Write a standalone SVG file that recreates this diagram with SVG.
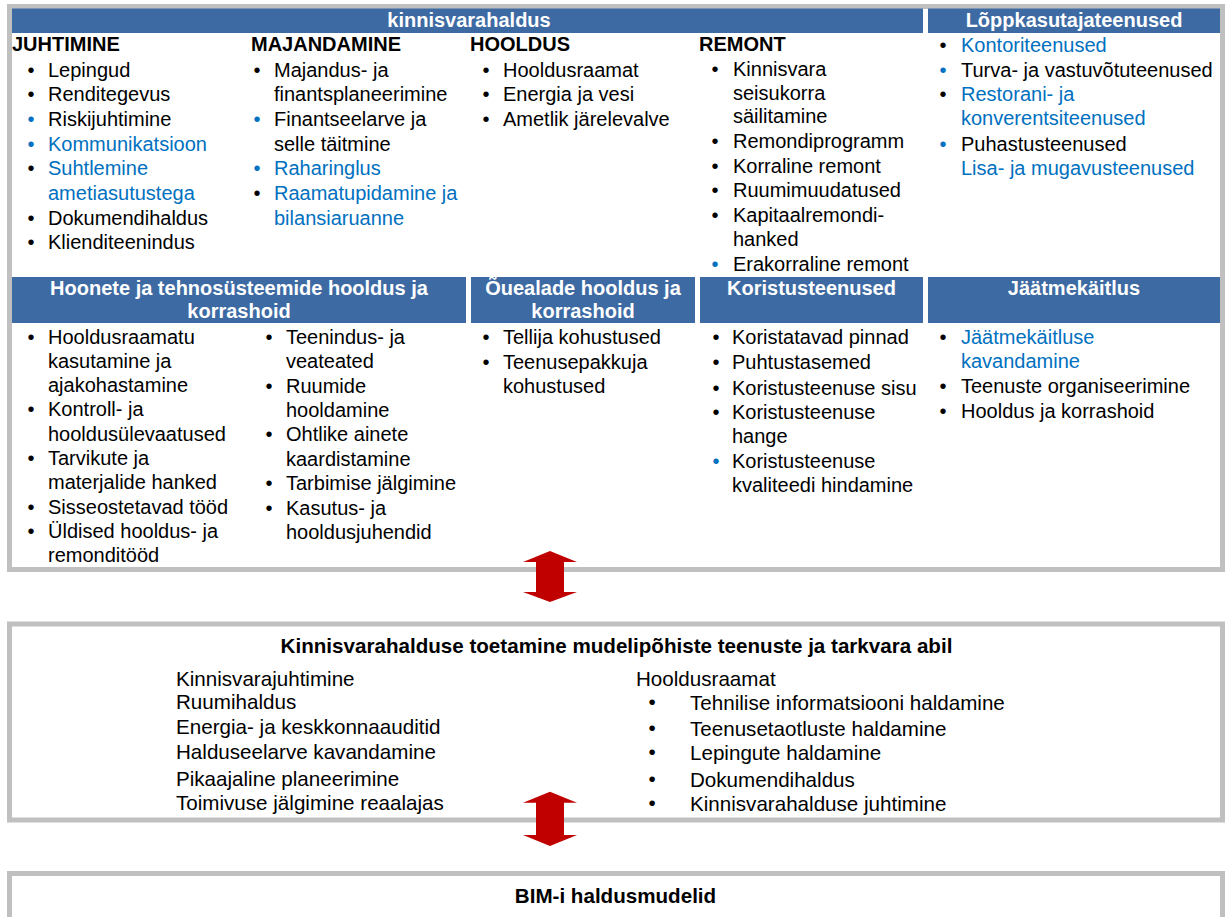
<svg xmlns="http://www.w3.org/2000/svg" width="1229" height="917" viewBox="0 0 1229 917">
<style>
text{font-family:"Liberation Sans",Arial,sans-serif;font-size:20px;fill:#000}
.h{font-weight:bold}
.w{font-weight:bold;fill:#fff;text-anchor:middle}
.c{text-anchor:middle}
.b{fill:#0070C0}
.lg text{font-size:20.6px}
.sb{font-size:17px}
.frame{fill:#fff;stroke:#C0C0C0;stroke-width:5}
.hdr{fill:#3D6AA3}
.arrow{fill:#C00000}
</style>
<rect width="1229" height="917" fill="#fff"/>
<g id="frame-top"><rect class="frame" x="9.5" y="6.5" width="1213" height="563"/></g>
<g id="frame-support"><rect class="frame" x="9.5" y="624" width="1213" height="196"/></g>
<g id="frame-bim"><rect class="frame" x="9.5" y="873.5" width="1213" height="60"/></g>

<g id="kinnisvarahaldus">
<rect class="hdr" x="12" y="8.5" width="911" height="24.5"/>
<text class="w" x="469" y="27">kinnisvarahaldus</text>
</g>

<g id="juhtimine">
<text class="h" x="12" y="51">JUHTIMINE</text>
<text class="c" x="31" y="76.7">•</text><text x="48" y="76.7">Lepingud</text>
<text class="c" x="31" y="101.3">•</text><text x="48" y="101.3">Renditegevus</text>
<text class="c b" x="31" y="126">•</text><text x="48" y="126">Riskijuhtimine</text>
<text class="c b" x="31" y="150.6">•</text><text class="b" x="48" y="150.6">Kommunikatsioon</text>
<text class="c" x="31" y="175.3">•</text><text class="b" x="48" y="175.3">Suhtlemine</text>
<text class="b" x="48" y="200">ametiasutustega</text>
<text class="c" x="31" y="224.6">•</text><text x="48" y="224.6">Dokumendihaldus</text>
<text class="c" x="31" y="249.3">•</text><text x="48" y="249.3">Klienditeenindus</text>
</g>

<g id="majandamine">
<text class="h" x="251" y="51">MAJANDAMINE</text>
<text class="c" x="257" y="76.7">•</text><text x="274" y="76.7">Majandus- ja</text>
<text x="274" y="101.3">finantsplaneerimine</text>
<text class="c b" x="257" y="126">•</text><text x="274" y="126">Finantseelarve ja</text>
<text x="274" y="150.6">selle täitmine</text>
<text class="c b" x="257" y="175.3">•</text><text class="b" x="274" y="175.3">Raharinglus</text>
<text class="c" x="257" y="200">•</text><text class="b" x="274" y="200">Raamatupidamine ja</text>
<text class="b" x="274" y="224.6">bilansiaruanne</text>
</g>

<g id="hooldus">
<text class="h" x="470" y="51">HOOLDUS</text>
<text class="c" x="486" y="76.7">•</text><text x="503" y="76.7">Hooldusraamat</text>
<text class="c" x="486" y="101.3">•</text><text x="503" y="101.3">Energia ja vesi</text>
<text class="c" x="486" y="126">•</text><text x="503" y="126">Ametlik järelevalve</text>
</g>

<g id="remont">
<text class="h" x="699" y="51">REMONT</text>
<text class="c" x="715" y="76">•</text><text x="733" y="76">Kinnisvara</text>
<text x="733" y="99.5">seisukorra</text>
<text x="733" y="123">säilitamine</text>
<text class="c" x="715" y="148">•</text><text x="733" y="148">Remondiprogramm</text>
<text class="c" x="715" y="172.5">•</text><text x="733" y="172.5">Korraline remont</text>
<text class="c" x="715" y="197">•</text><text x="733" y="197">Ruumimuudatused</text>
<text class="c" x="715" y="222">•</text><text x="733" y="222">Kapitaalremondi-</text>
<text x="733" y="246">hanked</text>
<text class="c b" x="715" y="271">•</text><text x="733" y="271">Erakorraline remont</text>
</g>

<g id="lopkasutajateenused">
<rect class="hdr" x="928" y="8.5" width="292" height="24.5"/>
<text class="w" x="1074" y="27">Lõppkasutajateenused</text>
<text class="c" x="943" y="51.7">•</text><text class="b" x="961" y="51.7">Kontoriteenused</text>
<text class="c b" x="943" y="77.3">•</text><text x="961" y="77.3">Turva- ja vastuvõtuteenused</text>
<text class="c" x="943" y="101">•</text><text class="b" x="961" y="101">Restorani- ja</text>
<text class="b" x="961" y="125">konverentsiteenused</text>
<text class="c b" x="943" y="150.7">•</text><text x="961" y="150.7">Puhastusteenused</text>
<text class="b" x="961" y="175">Lisa- ja mugavusteenused</text>
</g>

<g id="hoonete-hooldus">
<rect class="hdr" x="12" y="277" width="454" height="46"/>
<text class="w" x="239" y="295">Hoonete ja tehnosüsteemide hooldus ja</text>
<text class="w" x="239" y="318">korrashoid</text>
<text class="c" x="31" y="344">•</text><text x="48" y="344">Hooldusraamatu</text>
<text x="48" y="368">kasutamine ja</text>
<text x="48" y="392">ajakohastamine</text>
<text class="c" x="31" y="416">•</text><text x="48" y="416">Kontroll- ja</text>
<text x="48" y="440.5">hooldusülevaatused</text>
<text class="c" x="31" y="465">•</text><text x="48" y="465">Tarvikute ja</text>
<text x="48" y="489">materjalide hanked</text>
<text class="c" x="31" y="513.5">•</text><text x="48" y="513.5">Sisseostetavad tööd</text>
<text class="c" x="31" y="538">•</text><text x="48" y="538">Üldised hooldus- ja</text>
<text x="48" y="562">remonditööd</text>
<text class="c" x="269" y="344">•</text><text x="286" y="344">Teenindus- ja</text>
<text x="286" y="368">veateated</text>
<text class="c" x="269" y="392.5">•</text><text x="286" y="392.5">Ruumide</text>
<text x="286" y="416.5">hooldamine</text>
<text class="c" x="269" y="441">•</text><text x="286" y="441">Ohtlike ainete</text>
<text x="286" y="465.5">kaardistamine</text>
<text class="c" x="269" y="490">•</text><text x="286" y="490">Tarbimise jälgimine</text>
<text class="c" x="269" y="514.5">•</text><text x="286" y="514.5">Kasutus- ja</text>
<text x="286" y="539">hooldusjuhendid</text>
</g>

<g id="ouealade-hooldus">
<rect class="hdr" x="471" y="277" width="224" height="46"/>
<text class="w" x="583" y="295">Õuealade hooldus ja</text>
<text class="w" x="583" y="318">korrashoid</text>
<text class="c" x="486" y="344">•</text><text x="503" y="344">Tellija kohustused</text>
<text class="c" x="486" y="369">•</text><text x="503" y="369">Teenusepakkuja</text>
<text x="503" y="393">kohustused</text>
</g>

<g id="koristusteenused">
<rect class="hdr" x="700" y="277" width="223" height="46"/>
<text class="w" x="811.5" y="295">Koristusteenused</text>
<text class="c" x="716" y="344">•</text><text x="732" y="344">Koristatavad pinnad</text>
<text class="c" x="716" y="369">•</text><text x="732" y="369">Puhtustasemed</text>
<text class="c" x="716" y="395">•</text><text x="732" y="395">Koristusteenuse sisu</text>
<text class="c" x="716" y="419">•</text><text x="732" y="419">Koristusteenuse</text>
<text x="732" y="442.5">hange</text>
<text class="c b" x="716" y="468">•</text><text x="732" y="468">Koristusteenuse</text>
<text x="732" y="492">kvaliteedi hindamine</text>
</g>

<g id="jaatmekaitlus">
<rect class="hdr" x="928" y="277" width="292" height="46"/>
<text class="w" x="1074" y="295">Jäätmekäitlus</text>
<text class="c" x="943" y="344">•</text><text class="b" x="961" y="344">Jäätmekäitluse</text>
<text class="b" x="961" y="367.5">kavandamine</text>
<text class="c" x="943" y="392.5">•</text><text x="961" y="392.5">Teenuste organiseerimine</text>
<text class="c" x="943" y="417.5">•</text><text x="961" y="417.5">Hooldus ja korrashoid</text>
</g>

<g id="tugiteenused" class="lg">
<text class="h c" x="616.5" y="652.7">Kinnisvarahalduse toetamine mudelipõhiste teenuste ja tarkvara abil</text>
<text x="176" y="686">Kinnisvarajuhtimine</text>
<text x="176" y="709">Ruumihaldus</text>
<text x="176" y="734">Energia- ja keskkonnaauditid</text>
<text x="176" y="759">Halduseelarve kavandamine</text>
<text x="176" y="785.5">Pikaajaline planeerimine</text>
<text x="176" y="810">Toimivuse jälgimine reaalajas</text>
<text x="636" y="686">Hooldusraamat</text>
<text class="c sb" x="652" y="709">•</text><text x="690" y="710">Tehnilise informatsiooni haldamine</text>
<text class="c sb" x="652" y="734.5">•</text><text x="690" y="735.5">Teenusetaotluste haldamine</text>
<text class="c sb" x="652" y="758.5">•</text><text x="690" y="759.5">Lepingute haldamine</text>
<text class="c sb" x="652" y="785.5">•</text><text x="690" y="786.5">Dokumendihaldus</text>
<text class="c sb" x="652" y="809.5">•</text><text x="690" y="810.5">Kinnisvarahalduse juhtimine</text>
</g>

<g id="bim" class="lg">
<text class="h c" x="615.5" y="903">BIM-i haldusmudelid</text>
</g>

<g id="connectors">
<polygon class="arrow" points="550,551 577,562 564,562 564,592 577,592 550,602 523,592 536,592 536,562 523,562"/>
<polygon class="arrow" points="550,791.7 577,802.7 564,802.7 564,835 577,835 550,846 523,835 536,835 536,802.7 523,802.7"/>
</g>
</svg>
